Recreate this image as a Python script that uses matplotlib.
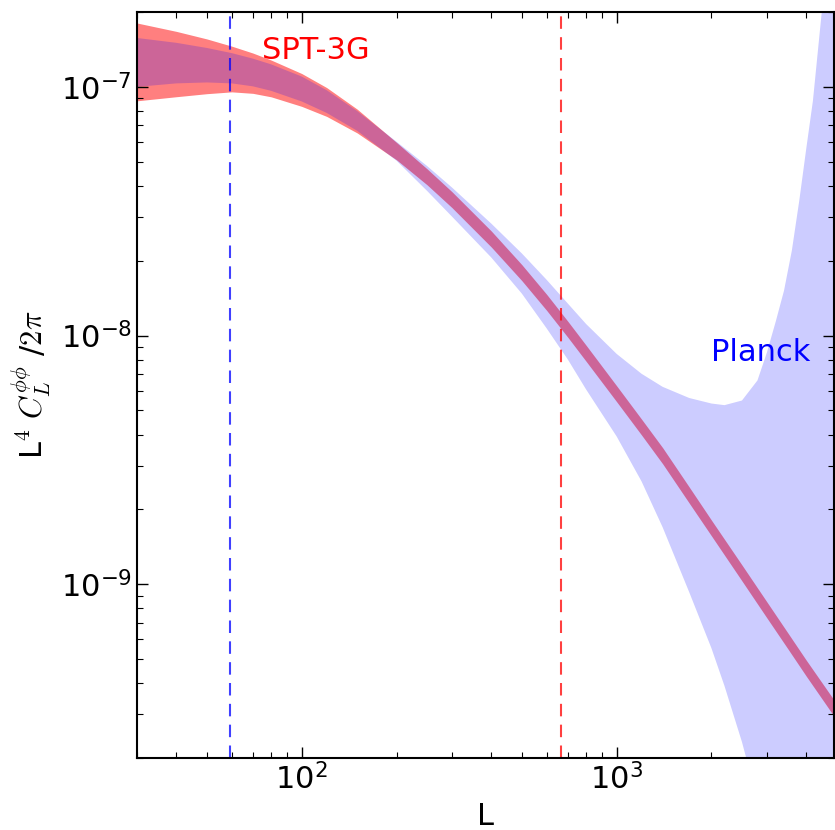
import numpy as np
import matplotlib
matplotlib.use('Agg')
import matplotlib.pyplot as plt

plt.rcParams['mathtext.fontset'] = 'cm'
plt.rcParams['axes.unicode_minus'] = False

# SPT-3G band (lower / upper edges)
spt_L = [30, 40, 50, 60, 70, 80, 100, 120, 150, 200, 250, 300, 400, 500, 600,
         700, 800, 1000, 1200, 1400, 1700, 2000, 2500, 3000, 3500, 4000, 5000]
spt_hi = [1.807e-7, 1.672e-7, 1.559e-7, 1.458e-7, 1.368e-7, 1.282e-7, 1.132e-7,
          9.94e-8, 8.14e-8, 5.98e-8, 4.685e-8, 3.789e-8, 2.633e-8, 1.928e-8,
          1.463e-8, 1.141e-8, 9.14e-9, 6.28e-9, 4.61e-9, 3.54e-9, 2.46e-9,
          1.81e-9, 1.195e-9, 8.49e-10, 6.36e-10, 4.95e-10, 3.30e-10]
spt_lo = [8.79e-8, 9.13e-8, 9.39e-8, 9.55e-8, 9.42e-8, 9.12e-8, 8.35e-8,
          7.61e-8, 6.53e-8, 5.09e-8, 4.04e-8, 3.27e-8, 2.27e-8, 1.663e-8,
          1.261e-8, 9.84e-9, 7.88e-9, 5.42e-9, 3.98e-9, 3.05e-9, 2.12e-9,
          1.565e-9, 1.031e-9, 7.32e-10, 5.49e-10, 4.27e-10, 2.84e-10]

# Planck band (lower / upper edges)
planck_L = [30, 40, 50, 60, 70, 80, 100, 120, 150, 200, 250, 300, 400, 500, 600,
            700, 800, 1000, 1200, 1400, 1700, 2000, 2200, 2500, 2800, 3000, 3200,
            3400, 3600, 3800, 4000, 4200, 4500, 5000]
planck_hi = [1.573e-7, 1.504e-7, 1.434e-7, 1.367e-7, 1.299e-7, 1.232e-7, 1.101e-7,
             9.70e-8, 8.00e-8, 6.02e-8, 4.81e-8, 3.94e-8, 2.82e-8, 2.14e-8,
             1.674e-8, 1.345e-8, 1.113e-8, 8.44e-9, 7.02e-9, 6.22e-9, 5.61e-9,
             5.33e-9, 5.25e-9, 5.48e-9, 6.60e-9, 8.55e-9, 1.138e-8, 1.516e-8,
             2.195e-8, 3.48e-8, 5.64e-8, 8.79e-8, 2.115e-7, 1.0e-6]
planck_lo = [1.0e-7, 1.033e-7, 1.042e-7, 1.033e-7, 1.005e-7, 9.64e-8, 8.74e-8,
             7.86e-8, 6.66e-8, 5.05e-8, 3.82e-8, 3.01e-8, 2.06e-8, 1.475e-8,
             1.067e-8, 8.01e-9, 6.07e-9, 3.93e-9, 2.59e-9, 1.694e-9, 9.29e-10,
             5.53e-10, 3.90e-10, 2.32e-10, 1.357e-10, 9.37e-11, 6.0e-11, 4.5e-11,
             3.5e-11, 2.8e-11, 2.3e-11, 2.0e-11, 1.6e-11, 1.2e-11]

# survey limits
L_planck_min = 59
L_spt_max = 665

fig = plt.figure(figsize=(8.35, 8.3), dpi=100)
ax = fig.add_axes([0.1641, 0.0867, 0.8347, 0.8988])

ax.fill_between(spt_L, spt_lo, spt_hi, color='red', alpha=0.5, linewidth=0)
ax.fill_between(planck_L, planck_lo, planck_hi, color='blue', alpha=0.2, linewidth=0)

ax.axvline(L_planck_min, color='blue', ls='--', lw=1.5, alpha=0.75, dashes=(6, 4))
ax.axvline(L_spt_max, color='red', ls='--', lw=1.5, alpha=0.75, dashes=(6, 4))

ax.text(75, 1.296e-7, 'SPT-3G', color='red', fontsize=22, ha='left', va='baseline')
ax.text(2000, 7.93e-9, 'Planck', color='blue', fontsize=22, ha='left', va='baseline')

ax.set_xscale('log')
ax.set_yscale('log')
ax.set_xlim(30, 4900)
ax.set_ylim(2e-10, 2e-7)

ax.set_xlabel('L', fontsize=22, labelpad=5)
ax.set_ylabel(r'L$^4$ $C_L^{\phi\phi}$ /$2\pi$', fontsize=22, labelpad=5)

ax.tick_params(which='both', direction='in', top=True, right=True, labelsize=22)
ax.tick_params(which='major', length=8, width=1)
ax.tick_params(which='minor', length=4, width=0.8)
for s in ax.spines.values():
    s.set_linewidth(1.5)

fig.savefig('out.png', dpi=100)
